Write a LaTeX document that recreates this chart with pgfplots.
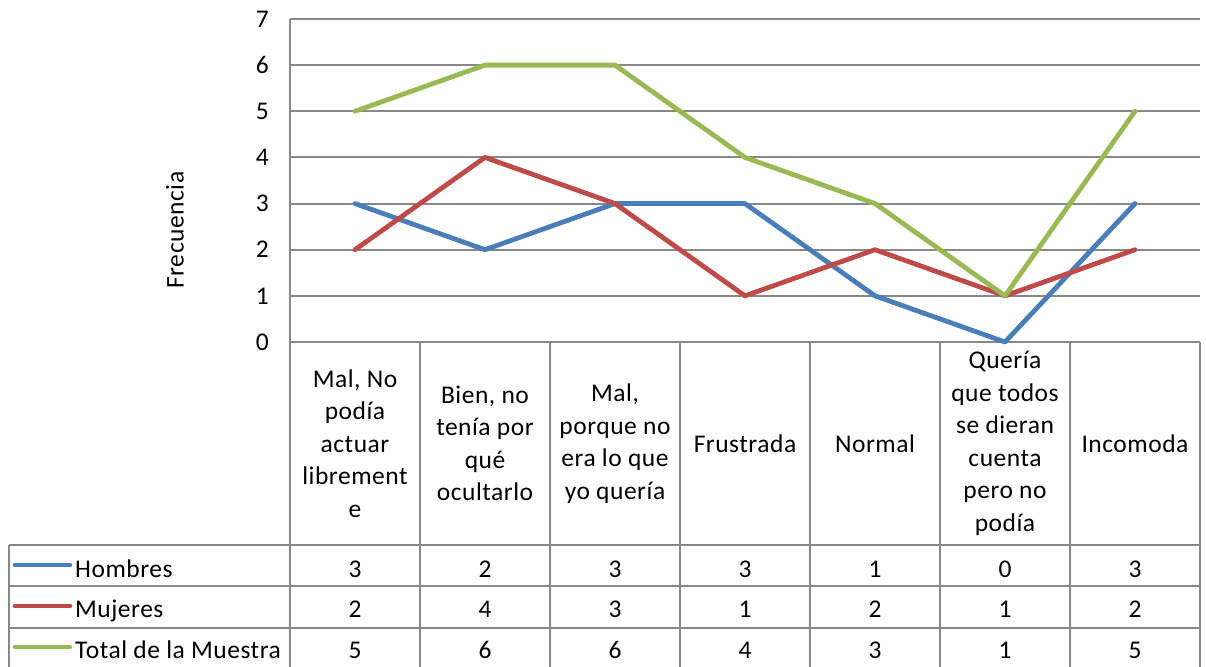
\documentclass[border=0pt]{standalone}
\usepackage{fontspec}
\setmainfont{Carlito}[LetterSpace=2]
\usepackage{pgfplots}
\pgfplotsset{compat=1.18}
\usepackage{pgfplotstable}
\definecolor{cH}{HTML}{4A7EBB}
\definecolor{cM}{HTML}{BE4B48}
\definecolor{cT}{HTML}{98B954}
\definecolor{gridc}{HTML}{888888}
\pgfplotstableread{
x h m t
0 3 2 5
1 2 4 6
2 3 3 6
3 3 1 4
4 1 2 3
5 0 1 1
6 3 2 5
}\data
\begin{document}
\begin{tikzpicture}[font=\fontsize{25.5}{32.5}\selectfont]
\useasboundingbox (0,0) rectangle (1206pt,666pt);
\begin{axis}[
  at={(290pt,324pt)}, anchor=south west,
  width=910pt, height=323pt, scale only axis,
  xmin=-0.5, xmax=6.5, ymin=0, ymax=7,
  clip=false,
  axis x line*=bottom, axis y line*=left,
  axis line style={gridc, line width=2pt, -},
  ymajorgrids, grid style={gridc, line width=2pt},
  major tick length=0pt,
  xtick={0,...,6}, ytick={0,...,7},
  /pgf/number format/assume math mode=true,
  xticklabels={{Mal, No\\podía\\actuar\\librement\\e},
               {Bien, no\\tenía por\\qué\\ocultarlo},
               {Mal,\\porque no\\era lo que\\yo quería},
               {Frustrada},
               {Normal},
               {Quería\\que todos\\se dieran\\cuenta\\pero no\\podía},
               {Incomoda}},
  xticklabel style={align=center, anchor=center, yshift=-101.5pt},
  yticklabel style={anchor=east, inner sep=0pt, xshift=-21pt},
  ylabel={Frecuencia},
  ylabel style={at={(axis description cs:-0.1264,0.3467)}, anchor=center},
  every node near coord/.append style={anchor=base, inner sep=0pt},
]
\addplot[cH, line width=4.8pt, line join=round, line cap=round] table[x=x, y=h] {\data};
\addplot[cM, line width=4.8pt, line join=round, line cap=round] table[x=x, y=m] {\data};
\addplot[cT, line width=4.8pt, line join=round, line cap=round] table[x=x, y=t] {\data};
% data table values
\addplot[draw=none, mark=none, nodes near coords, point meta=explicit symbolic] table[x=x, y expr=-5.093, meta=h] {\data};
\addplot[draw=none, mark=none, nodes near coords, point meta=explicit symbolic] table[x=x, y expr=-5.960, meta=m] {\data};
\addplot[draw=none, mark=none, nodes near coords, point meta=explicit symbolic] table[x=x, y expr=-6.870, meta=t] {\data};
% table grid
\pgfplotsinvokeforeach{-0.5,0.5,1.5,2.5,3.5,4.5,5.5,6.5}{
  \draw[gridc, line width=2pt] (axis cs:#1,0) -- (axis cs:#1,-7.2);
}
\draw[gridc, line width=2pt] (axis cs:-0.5,7) -- (axis cs:-0.5,-7.2);
\draw[gridc, line width=2pt] (axis cs:-2.6615,-4.399) -- (axis cs:6.5,-4.399);
\draw[gridc, line width=2pt] (axis cs:-2.6615,-5.288) -- (axis cs:6.5,-5.288);
\draw[gridc, line width=2pt] (axis cs:-2.6615,-6.198) -- (axis cs:6.5,-6.198);
\draw[gridc, line width=2pt] (axis cs:-2.6615,-4.399) -- (axis cs:-2.6615,-7.2);
% legend keys
\draw[cH, line width=4.8pt, line cap=round] (axis cs:-2.615,-4.833) -- (axis cs:-2.193,-4.833);
\draw[cM, line width=4.8pt, line cap=round] (axis cs:-2.615,-5.721) -- (axis cs:-2.193,-5.721);
\draw[cT, line width=4.8pt, line cap=round] (axis cs:-2.615,-6.610) -- (axis cs:-2.193,-6.610);
\node[anchor=base west, inner sep=0pt] at (axis cs:-2.1538,-5.093) {Hombres};
\node[anchor=base west, inner sep=0pt] at (axis cs:-2.1538,-5.960) {Mujeres};
\node[anchor=base west, inner sep=0pt] at (axis cs:-2.1538,-6.870) {Total de la Muestra};
\end{axis}
\end{tikzpicture}
\end{document}
